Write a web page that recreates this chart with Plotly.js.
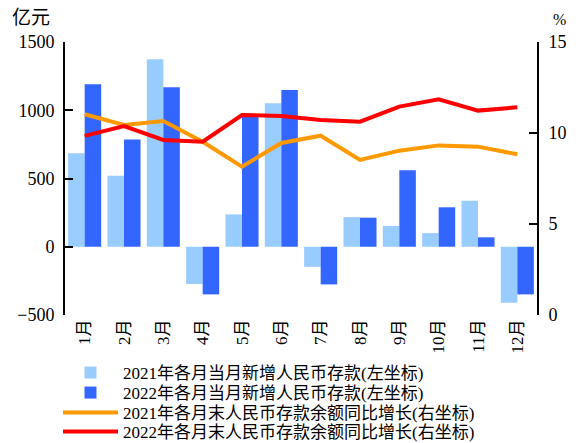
<!DOCTYPE html>
<html>
<head>
<meta charset="utf-8">
<script src="https://cdn.plot.ly/plotly-3.0.1.min.js"></script>
<style>html,body{margin:0;padding:0;background:#fff;}#chart{width:578px;height:443px;}</style>
</head>
<body>
<div id="chart"></div>
<script>
const months = ["1月","2月","3月","4月","5月","6月","7月","8月","9月","10月","11月","12月"];
const newDeposit2021 = [685, 520, 1374, -273, 237, 1051, -147, 217, 152, 100, 337, -410];
const newDeposit2022 = [1190, 785, 1169, -349, 962, 1149, -276, 213, 560, 289, 69, -349];
const growth2021 = [11.03, 10.44, 10.66, 9.52, 8.15, 9.45, 9.85, 8.52, 9.03, 9.32, 9.25, 8.83];
const growth2022 = [9.84, 10.38, 9.62, 9.52, 10.99, 10.93, 10.71, 10.62, 11.45, 11.85, 11.23, 11.41];
const names = [
  "2021年各月当月新增人民币存款(左坐标)",
  "2022年各月当月新增人民币存款(左坐标)",
  "2021年各月末人民币存款余额同比增长(右坐标)",
  "2022年各月末人民币存款余额同比增长(右坐标)"
];
const leftTicks = [-500, 0, 500, 1000, 1500];
const rightTicks = [0, 5, 10, 15];

const FONT = "Liberation Serif, Times New Roman, Noto Sans CJK SC, serif";
const LEGFONT = {family:FONT, size:17, color:"#000"};

const traces = [
  {type:"bar", x:months, y:newDeposit2021, name:names[0], marker:{color:"#99CCFF"}, yaxis:"y", legend:"legend"},
  {type:"bar", x:months, y:newDeposit2022, name:names[1], marker:{color:"#3366FF"}, yaxis:"y", legend:"legend2"},
  {type:"scatter", mode:"lines", x:months, y:growth2021, name:names[2], line:{color:"#FF9900", width:4}, yaxis:"y2", legend:"legend3"},
  {type:"scatter", mode:"lines", x:months, y:growth2022, name:names[3], line:{color:"#FF0000", width:4}, yaxis:"y2", legend:"legend4"}
];

// plot area spans 65..537 px horizontally and 42..315 px vertically
function leg(py){
  return {xref:"paper", yref:"container", x:(58-65)/472, y:1 - py/443, xanchor:"left", yanchor:"middle",
          font:LEGFONT, itemwidth:55, bgcolor:"rgba(0,0,0,0)", borderwidth:0};
}

const layout = {
  width:578, height:443,
  margin:{l:65, r:41, t:42, b:128},
  paper_bgcolor:"#fff", plot_bgcolor:"#fff",
  font:{family:FONT, size:17, color:"#000"},
  barmode:"group", bargap:0.16, bargroupgap:0,
  showlegend:true,
  legend:leg(373), legend2:leg(393), legend3:leg(413), legend4:leg(432),
  xaxis:{type:"category", categoryorder:"array", categoryarray:months,
         showline:false, ticks:"", tickangle:-90, showgrid:false, zeroline:false, automargin:false,
         tickfont:{family:FONT, size:17, color:"#000"}},
  xaxis2:{overlaying:"x", anchor:"free", position:0.25, side:"bottom",
          range:[0, months.length], tickmode:"linear", tick0:0, dtick:1,
          ticks:"inside", ticklen:7, tickwidth:2, tickcolor:"#000",
          showticklabels:false, showline:true, linecolor:"#000", linewidth:2,
          showgrid:false, zeroline:false},
  yaxis:{range:[-500,1500], tickvals:leftTicks, ticks:"inside", ticklen:8, tickwidth:2, tickcolor:"#000",
         showline:true, linecolor:"#000", linewidth:2, showgrid:false, zeroline:false, automargin:false,
         ticklabelstandoff:5, tickfont:{family:FONT, size:18, color:"#000"}},
  yaxis2:{overlaying:"y", side:"right", range:[0,15], tickvals:rightTicks, ticks:"inside", ticklen:8,
          tickwidth:2, tickcolor:"#000", showline:true, linecolor:"#000", linewidth:2,
          showgrid:false, zeroline:false, automargin:false, ticklabelstandoff:6,
          tickfont:{family:FONT, size:18, color:"#000"}},
  annotations:[
    {text:"亿元", xref:"paper", yref:"paper", x:-0.0275, y:1.045, xanchor:"right", yanchor:"bottom",
     showarrow:false, font:{family:FONT, size:19, color:"#000"}},
    {text:"%", xref:"paper", yref:"paper", x:1.03, y:1.045, xanchor:"left", yanchor:"bottom",
     showarrow:false, font:{family:FONT, size:16, color:"#000"}}
  ]
};

Plotly.newPlot("chart", traces, layout, {displayModeBar:false, staticPlot:true});
</script>
</body>
</html>
